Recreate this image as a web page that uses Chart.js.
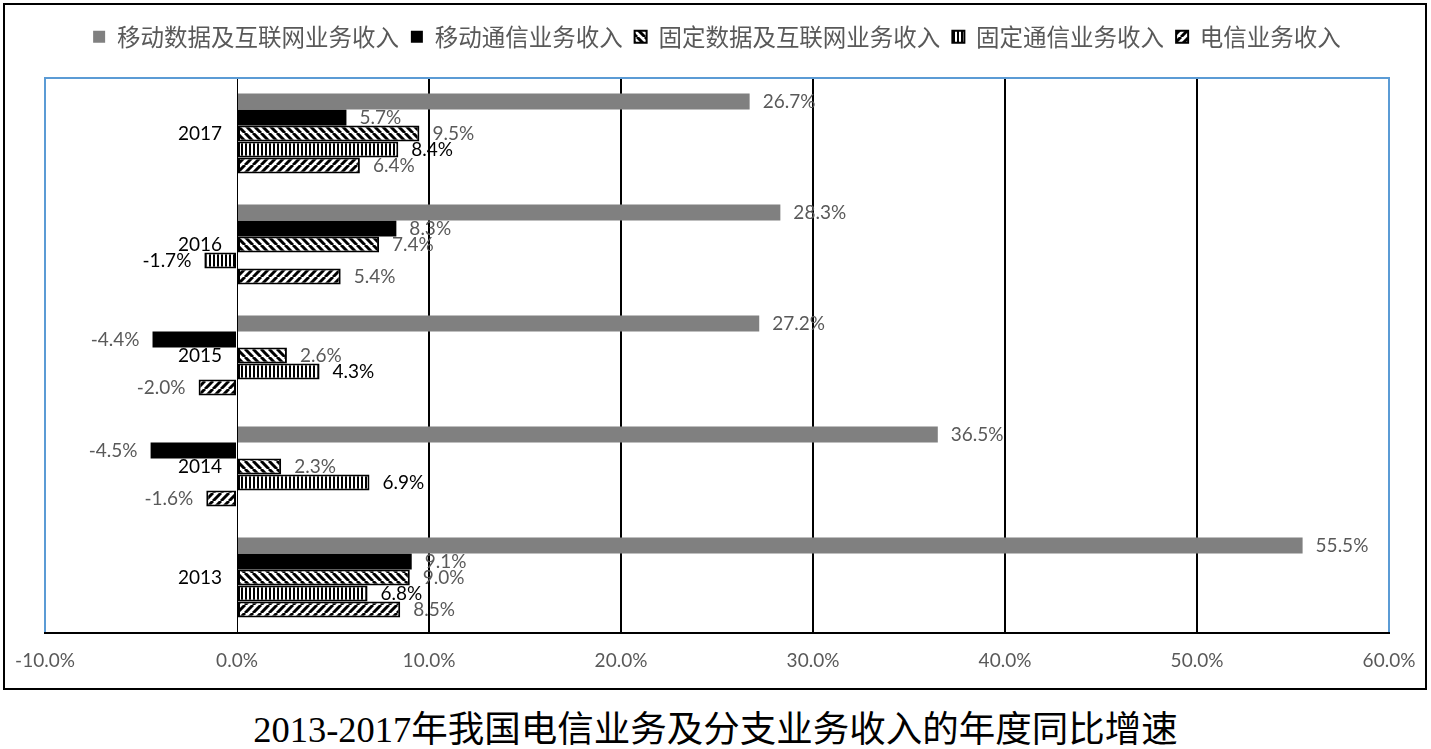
<!DOCTYPE html>
<html>
<head>
<meta charset="utf-8">
<script src="https://cdn.jsdelivr.net/npm/chart.js@4.4.1/dist/chart.umd.min.js"></script>
<style>
  html, body { margin: 0; padding: 0; background: #fff; width: 1431px; height: 749px; overflow: hidden; }
  #frame { position: absolute; left: 3px; top: 3px; width: 1424px; height: 687px; border: 2px solid #000; box-sizing: border-box; }
  #chart { display: block; }
  #title { position: absolute; left: 0; top: 711px; width: 1431px; height: 38px; line-height: 38px; text-align: center;
           font-family: "Liberation Serif", "Noto Sans CJK SC", serif; font-size: 36.5px; color: #000; white-space: nowrap; }
</style>
</head>
<body>
<div id="frame"><canvas id="chart" width="1420" height="683"></canvas></div>
<div id="title">2013-2017年我国电信业务及分支业务收入的年度同比增速</div>
<script>
// ---- data ----
const categories = ['2017', '2016', '2015', '2014', '2013'];
const seriesNames = ['移动数据及互联网业务收入', '移动通信业务收入', '固定数据及互联网业务收入', '固定通信业务收入', '电信业务收入'];
const mobileData = [26.7, 28.3, 27.2, 36.5, 55.5];
const mobileComm = [5.7, 8.3, -4.4, -4.5, 9.1];
const fixedData = [9.5, 7.4, 2.6, 2.3, 9.0];
const fixedComm = [8.4, -1.7, 4.3, 6.9, 6.8];
const telecom = [6.4, 5.4, -2.0, -1.6, 8.5];
const xMin = -10, xMax = 60, xStep = 10;

// ---- patterns ----
function makePattern(kind) {
  const s = kind === 'vert' ? 4 : 8;
  const c = document.createElement('canvas');
  c.width = s; c.height = s;
  const g = c.getContext('2d');
  g.fillStyle = '#fff'; g.fillRect(0, 0, s, s);
  g.fillStyle = '#000'; g.strokeStyle = '#000';
  if (kind === 'vert') {
    g.fillRect(0, 0, 2, s);
  } else {
    g.lineWidth = 3;
    g.beginPath();
    for (const x0 of [-s, 0, s]) {
      if (kind === 'back') { g.moveTo(x0, 0); g.lineTo(x0 + s, s); }
      else { g.moveTo(x0, s); g.lineTo(x0 + s, 0); }
    }
    g.stroke();
  }
  return document.getElementById('chart').getContext('2d').createPattern(c, 'repeat');
}
const patBack = makePattern('back');
const patVert = makePattern('vert');
const patFwd = makePattern('fwd');

const LABEL_FONT = '19px Lato';

const dataLabelPlugin = {
  id: 'dataLabels',
  beforeDatasetsDraw(chart) {
    const ctx = chart.ctx;
    ctx.save();
    ctx.font = LABEL_FONT;
    ctx.textBaseline = 'middle';
    chart.data.datasets.forEach((ds, i) => {
      const meta = chart.getDatasetMeta(i);
      meta.data.forEach((bar, j) => {
        const v = ds.data[j];
        const txt = v.toFixed(1) + '%';
        ctx.fillStyle = i === 3 ? '#000' : '#595959';
        if (v >= 0) { ctx.textAlign = 'left'; ctx.fillText(txt, bar.x + 13, bar.y); }
        else { ctx.textAlign = 'right'; ctx.fillText(txt, bar.x - 13, bar.y); }
      });
    });
    // category labels beside the zero line (Excel "next to axis")
    const xs = chart.scales.x, ys = chart.scales.y;
    const x0 = xs.getPixelForValue(0);
    ctx.fillStyle = '#000';
    ctx.textAlign = 'right';
    chart.data.labels.forEach((lab, i) => {
      ctx.fillText(lab, x0 - 15, ys.getPixelForTick(i));
    });
    ctx.restore();
  },
  afterDraw(chart) {
    const a = chart.chartArea, ctx = chart.ctx;
    ctx.save();
    ctx.strokeStyle = '#5B9BD5';
    ctx.lineWidth = 2;
    ctx.beginPath();
    ctx.moveTo(a.left - 1, a.top);
    ctx.lineTo(a.right + 1, a.top);
    ctx.stroke();
    ctx.restore();
  }
};

const legendHeightPlugin = {
  id: 'legendHeight',
  beforeLayout(chart) {
    const lg = chart.legend;
    if (lg && !lg.__patched) {
      const orig = lg.fit;
      lg.fit = function () { orig.call(this); this.height = 65; };
      lg.__patched = true;
    }
  }
};

const common = { borderSkipped: false, categoryPercentage: 0.72, barPercentage: 1.0 };

new Chart(document.getElementById('chart'), {
  type: 'bar',
  data: {
    labels: categories,
    datasets: [
      Object.assign({ label: seriesNames[0], data: mobileData, backgroundColor: '#808080', borderColor: '#808080', borderWidth: 0 }, common),
      Object.assign({ label: seriesNames[1], data: mobileComm, backgroundColor: '#000000', borderColor: '#000000', borderWidth: 0 }, common),
      Object.assign({ label: seriesNames[2], data: fixedData, backgroundColor: patBack, borderColor: '#000000', borderWidth: 2 }, common),
      Object.assign({ label: seriesNames[3], data: fixedComm, backgroundColor: patVert, borderColor: '#000000', borderWidth: 2 }, common),
      Object.assign({ label: seriesNames[4], data: telecom, backgroundColor: patFwd, borderColor: '#000000', borderWidth: 2 }, common)
    ]
  },
  options: {
    indexAxis: 'y',
    responsive: false,
    animation: false,
    layout: { padding: { top: 8, left: 40, right: 36, bottom: 0 } },
    plugins: {
      legend: {
        position: 'top',
        labels: {
          boxWidth: 12, boxHeight: 12, padding: 12,
          color: '#595959',
          font: { family: '"Noto Sans CJK SC"', size: 23.5 }
        }
      },
      tooltip: { enabled: false },
      title: { display: false }
    },
    scales: {
      x: {
        type: 'linear',
        min: xMin, max: xMax,
        ticks: {
          stepSize: xStep,
          color: '#595959',
          font: { family: 'Lato', size: 19 },
          padding: 2,
          callback: (v) => Number(v).toFixed(1) + '%'
        },
        grid: {
          drawTicks: true,
          tickLength: 14,
          tickColor: 'rgba(0,0,0,0)',
          color: (c) => (c.tick && (c.tick.value === xMin || c.tick.value === xMax)) ? '#5B9BD5' : (c.tick && c.tick.value === 0 ? 'rgba(0,0,0,0)' : '#000'),
          lineWidth: 2
        },
        border: { display: true, color: '#000', width: 2 },
        afterFit: (s) => { s.height = 55; }
      },
      y: {
        type: 'category',
        position: { x: 0 },
        grid: { display: false, drawTicks: false },
        border: { display: true, color: '#000', width: 1 },
        ticks: { display: false }
      }
    }
  },
  plugins: [dataLabelPlugin, legendHeightPlugin]
});
</script>
</body>
</html>
